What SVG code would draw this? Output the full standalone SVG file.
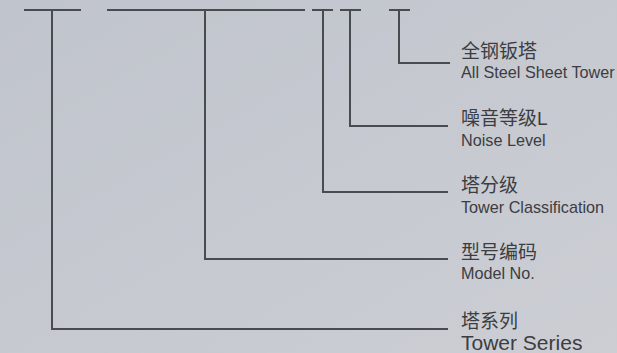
<svg xmlns="http://www.w3.org/2000/svg" width="617" height="353" viewBox="0 0 617 353">
<defs>
<linearGradient id="bg" x1="0" y1="0" x2="1" y2="1">
<stop offset="0" stop-color="#c0c4cc"/>
<stop offset="1" stop-color="#ccced4"/>
</linearGradient>
<style>
.ln{fill:none;stroke:#4a4b4f;stroke-width:2;stroke-linecap:butt;stroke-linejoin:miter}
.cn{font-family:"Liberation Sans","Noto Sans CJK SC",sans-serif;font-size:19px;fill:#3c3d42}
.en{font-family:"Liberation Sans",Arial,sans-serif;font-size:16.2px;fill:#3c3d42}
</style>
</defs>
<rect width="617" height="353" fill="url(#bg)"/>
<g id="connectors">
<path class="ln" d="M24 10H81M52 10V329H448"/>
<path class="ln" d="M107 10H305M205 10V259H448"/>
<path class="ln" d="M312 10H333M323 10V192H448"/>
<path class="ln" d="M340 10H361M350 10V126H448"/>
<path class="ln" d="M389 10H410M399 10V63H450"/>
</g>
<g id="steel">
<text class="cn" x="461" y="58">全钢钣塔</text>
<text class="en" x="461" y="78">All Steel Sheet Tower</text>
</g>
<g id="noise">
<text class="cn" x="461" y="125">噪音等级L</text>
<text class="en" x="461" y="146">Noise Level</text>
</g>
<g id="classification">
<text class="cn" x="461" y="192">塔分级</text>
<text class="en" x="461" y="213">Tower Classification</text>
</g>
<g id="model">
<text class="cn" x="461" y="259">型号编码</text>
<text class="en" x="461" y="279">Model No.</text>
</g>
<g id="series">
<text class="cn" x="461" y="328">塔系列</text>
<text class="en" x="461" y="350" style="font-size:21px">Tower Series</text>
</g>
</svg>
